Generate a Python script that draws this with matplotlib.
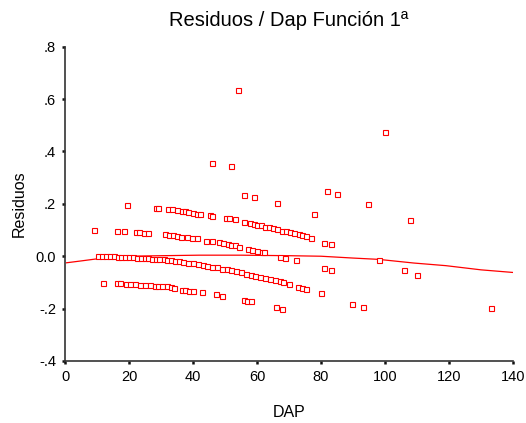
import matplotlib
matplotlib.use("Agg")
import matplotlib.pyplot as plt

plt.rcParams["font.family"] = ["Liberation Sans", "DejaVu Sans"]

# Residual bands (DAP, residuo)
band_a_dap = [28.3, 29.0, 32.3, 33.3, 35.1, 36.5, 37.5, 38.5, 40.0, 41.3, 42.2, 45.3, 46.0,
              50.2, 51.1, 53.1, 55.9, 57.8, 59.0, 60.1, 61.3, 62.6, 63.8, 65.1, 66.2, 67.8,
              69.2, 70.2, 71.5, 73.0, 74.0, 75.3, 76.9, 80.8, 83.0]
band_a_res = [0.185, 0.185, 0.180, 0.180, 0.175, 0.172, 0.172, 0.170, 0.165, 0.163, 0.163,
              0.158, 0.152, 0.146, 0.146, 0.141, 0.132, 0.127, 0.124, 0.121, 0.118, 0.113,
              0.110, 0.107, 0.104, 0.097, 0.095, 0.092, 0.088, 0.085, 0.080, 0.076, 0.070,
              0.052, 0.048]

band_b_dap = [9.2, 16.2, 18.3, 22.2, 23.2, 24.7, 25.8, 31.2, 32.5, 33.7, 35.0, 36.4, 38.0,
              39.7, 41.2, 44.0, 45.8, 48.0, 49.4, 50.8, 52.0, 53.0, 54.3, 57.2, 58.5, 60.0,
              61.5, 62.3, 67.2, 68.9, 72.1]
band_b_res = [0.101, 0.098, 0.098, 0.092, 0.092, 0.090, 0.089, 0.083, 0.080, 0.080, 0.077,
              0.074, 0.072, 0.069, 0.069, 0.058, 0.058, 0.053, 0.050, 0.046, 0.043, 0.041,
              0.036, 0.028, 0.025, 0.021, 0.018, 0.017, -0.002, -0.007, -0.013]

band_c_dap = [10.2, 11.5, 12.8, 14.0, 15.2, 16.5, 17.5, 18.8, 20.0, 21.2, 22.5, 23.8, 25.0,
              26.0, 27.2, 28.5, 29.5, 30.8, 32.0, 33.2, 34.5, 35.5, 37.0, 38.5, 40.0, 41.5,
              43.0, 44.5, 46.0, 47.5, 49.0, 50.5, 52.0, 53.5, 55.0, 56.5, 58.0, 59.5, 61.0,
              62.5, 64.0, 65.5, 67.2, 68.2, 70.0, 72.9, 74.0, 75.2]
band_c_res = [0.000, 0.000, 0.000, -0.001, -0.001, -0.002, -0.002, -0.002, -0.003, -0.004,
              -0.005, -0.006, -0.007, -0.008, -0.009, -0.010, -0.011, -0.012, -0.014, -0.016,
              -0.018, -0.020, -0.022, -0.024, -0.027, -0.030, -0.033, -0.036, -0.040, -0.043,
              -0.047, -0.050, -0.054, -0.058, -0.062, -0.066, -0.071, -0.075, -0.079, -0.083,
              -0.087, -0.091, -0.096, -0.100, -0.106, -0.118, -0.121, -0.124]

band_d_dap = [12.0, 16.2, 17.3, 19.2, 20.3, 22.0, 23.5, 25.0, 26.6, 28.1, 29.2, 30.2, 31.8,
              33.0, 34.1, 36.5, 37.5, 38.8, 40.1, 42.9, 47.1, 49.2, 55.9, 57.0, 58.2, 66.0,
              67.9]
band_d_res = [-0.102, -0.102, -0.102, -0.105, -0.105, -0.106, -0.108, -0.108, -0.110, -0.112,
              -0.114, -0.115, -0.115, -0.118, -0.122, -0.128, -0.129, -0.131, -0.131, -0.137,
              -0.146, -0.150, -0.169, -0.172, -0.172, -0.194, -0.203]

other_dap = [19.3, 46.0, 52.0, 54.1, 55.9, 59.2, 66.1, 77.9, 81.9, 85.0, 94.8, 99.9, 107.8,
             98.1, 80.8, 83.0, 106.0, 110.0, 80.1, 89.8, 93.0, 133.0]
other_res = [0.194, 0.356, 0.343, 0.636, 0.232, 0.225, 0.202, 0.162, 0.250, 0.236, 0.198,
             0.474, 0.137, -0.013, -0.045, -0.053, -0.053, -0.071, -0.142, -0.181, -0.194,
             -0.199]

# smooth fit line
fit_dap = [0.5, 5, 10, 15, 20, 30, 42, 55, 70, 80, 90, 98, 109, 119, 130, 140]
fit_res = [-0.025, -0.018, -0.010, -0.004, 0.000, 0.002, 0.004, 0.004, 0.002, 0.000,
           -0.007, -0.012, -0.026, -0.036, -0.052, -0.062]

xticks = [0, 20, 40, 60, 80, 100, 120, 140]
yticks = [-0.4, -0.2, 0.0, 0.2, 0.4, 0.6, 0.8]
ytick_labels = ["-.4", "-.2", "0.0", ".2", ".4", ".6", ".8"]

fig = plt.figure(figsize=(5.26, 4.23), dpi=100)
ax = fig.add_axes([0.1236, 0.1466, 0.8517, 0.743])

xs = band_a_dap + band_b_dap + band_c_dap + band_d_dap + other_dap
ys = band_a_res + band_b_res + band_c_res + band_d_res + other_res
ax.plot(xs, ys, linestyle="none", marker="s", markersize=3.6, markerfacecolor="white",
        markeredgecolor="#ff0000", markeredgewidth=0.8, zorder=3)
ax.plot(fit_dap, fit_res, color="#ff0000", linewidth=0.9, zorder=2)

ax.set_xlim(0, 140)
ax.set_ylim(-0.4, 0.8)
ax.set_xticks(xticks)
ax.set_yticks(yticks)
ax.set_yticklabels(ytick_labels)

for s in ["top", "right"]:
    ax.spines[s].set_visible(False)
for s in ["left", "bottom"]:
    ax.spines[s].set_color("#333333")
    ax.spines[s].set_linewidth(1.2)
ax.tick_params(length=2.5, width=1.8, color="#111111", labelsize=10.5, pad=4)

ax.set_title("Residuos / Dap Función 1ª", fontsize=14.5, pad=15)
ax.set_xlabel("DAP", fontsize=11.5, labelpad=15)
ax.set_ylabel("Residuos", fontsize=11.5, labelpad=6)

fig.savefig("out.png", dpi=100)
